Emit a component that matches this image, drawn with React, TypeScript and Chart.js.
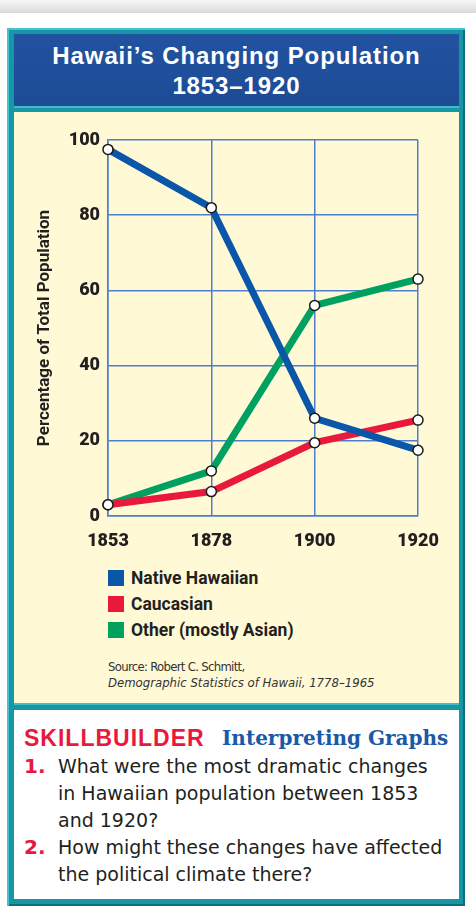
import React, { useEffect, useRef } from "react";
import { Chart, registerables } from "chart.js";

Chart.register(...registerables);

// ---- data ----
const years = ["1853", "1878", "1900", "1920"];
const nativeHawaiian = [97.5, 82, 26, 17.5];
const caucasian = [3, 6.5, 19.5, 25.5];
const other = [3, 12, 56, 63];
const yTicks = [0, 20, 40, 60, 80, 100];
const seriesNames = ["Native Hawaiian", "Caucasian", "Other (mostly Asian)"];
const seriesColors = ["#0a56a8", "#e8193c", "#00a160"];

const GRID = "#4f7fcc";
const INK = "#231f20";
const TEAL = "#1797a5";
const BOLD_FAMILY = "Roboto, 'Liberation Sans', sans-serif";

function LineChart() {
  const ref = useRef<HTMLCanvasElement | null>(null);
  useEffect(() => {
    if (!ref.current) return;
    const seriesValues = [nativeHawaiian, caucasian, other];
    const chart = new Chart(ref.current, {
      type: "line",
      data: {
        labels: years,
        datasets: seriesValues.map((vals, i) => ({
          label: seriesNames[i],
          data: vals,
          borderColor: seriesColors[i],
          backgroundColor: seriesColors[i],
          borderWidth: 7,
          borderJoinStyle: "round" as const,
          borderCapStyle: "round" as const,
          tension: 0,
          fill: false,
          pointRadius: 5,
          pointHoverRadius: 5,
          pointBackgroundColor: "#ffffff",
          pointBorderColor: "#1a1a1a",
          pointBorderWidth: 1.5,
          clip: 10,
        })),
      },
      options: {
        animation: false,
        responsive: false,
        maintainAspectRatio: false,
        events: [],
        layout: { padding: { top: 28, right: 41, bottom: 0, left: 0 } },
        plugins: { legend: { display: false }, tooltip: { enabled: false } },
        scales: {
          x: {
            type: "category",
            offset: false,
            grid: { color: GRID, lineWidth: 1.5, drawTicks: false },
            border: { color: GRID, width: 1.5 },
            ticks: {
              color: INK,
              padding: 15,
              maxRotation: 0,
              autoSkip: false,
              font: { family: BOLD_FAMILY, size: 18, weight: 900 },
            },
            afterFit: (s: any) => {
              s.height = 46;
            },
          },
          y: {
            min: 0,
            max: 100,
            afterBuildTicks: (s: any) => {
              s.ticks = yTicks.map((v) => ({ value: v }));
            },
            grid: { color: GRID, lineWidth: 1.5, drawTicks: false },
            border: { color: GRID, width: 1.5 },
            ticks: {
              color: INK,
              padding: 8,
              font: { family: BOLD_FAMILY, size: 18, weight: 900 },
            },
            title: {
              display: true,
              text: "Percentage of Total Population",
              color: INK,
              font: { family: BOLD_FAMILY, size: 17, weight: "bold" },
              padding: { top: 21, bottom: 0 },
            },
            afterFit: (s: any) => {
              s.width = 94;
            },
          },
        },
      },
    });
    return () => chart.destroy();
  }, []);
  return (
    <canvas
      ref={ref}
      width={445}
      height={450}
      style={{ position: "absolute", left: 14, top: 112, width: 445, height: 450 }}
    />
  );
}

const abs = (l: number, t: number, w: number, h: number, extra: React.CSSProperties = {}): React.CSSProperties => ({
  position: "absolute",
  left: l,
  top: t,
  width: w,
  height: h,
  ...extra,
});

export default function App() {
  const qFont: React.CSSProperties = {
    fontFamily: "'DejaVu Sans', sans-serif",
    fontSize: 19,
    color: INK,
    lineHeight: "27px",
    whiteSpace: "nowrap",
  };
  const numFont: React.CSSProperties = {
    fontFamily: "'DejaVu Sans', sans-serif",
    fontWeight: 700,
    fontSize: 20,
    color: "#e8193c",
    lineHeight: "27px",
  };
  return (
    <div style={abs(0, 0, 476, 916, { background: "#ffffff", overflow: "hidden" })}>
      {/* top grey band */}
      <div style={abs(0, 0, 476, 13, { background: "linear-gradient(#f7f7f7, #d9d9d9)" })} />
      {/* frame */}
      <div
        style={abs(7, 28, 458, 878, {
          background: TEAL,
          boxShadow: "inset 2px 2px 0 #45c2cd, inset -2px -2px 0 #0b6f7b",
        })}
      />
      {/* header */}
      <div
        style={abs(14, 34, 445, 72, {
          background: "linear-gradient(#2253a0, #1d4b96)",
          color: "#ffffff",
          textAlign: "center",
          fontFamily: "'Liberation Sans', Arial, sans-serif",
          fontWeight: 700,
          fontSize: 24,
          letterSpacing: 0.9,
          lineHeight: "30px",
          paddingTop: 7,
          boxSizing: "border-box",
        })}
      >
        <div>Hawaii’s Changing Population</div>
        <div>1853–1920</div>
      </div>
      {/* divider highlight */}
      <div style={abs(14, 106, 445, 2, { background: "#3fbcc8" })} />
      {/* cream panel */}
      <div style={abs(14, 112, 445, 591, { background: "#fff9d6" })} />
      <LineChart />
      {/* legend */}
      {seriesNames.map((name, i) => (
        <div key={name}>
          <div style={abs(108, 570 + i * 26, 16, 16, { background: seriesColors[i] })} />
          <div
            style={abs(131, 566 + i * 26, 300, 24, {
              fontFamily: BOLD_FAMILY,
              fontWeight: 700,
              fontSize: 17.5,
              lineHeight: "24px",
              color: INK,
              whiteSpace: "nowrap",
            })}
          >
            {name}
          </div>
        </div>
      ))}
      {/* source */}
      <div
        style={abs(108, 659, 340, 34, {
          fontFamily: "'Liberation Sans Narrow', 'DejaVu Sans Condensed', sans-serif",
          fontSize: 13,
          lineHeight: "16px",
          color: "#333333",
          whiteSpace: "nowrap",
        })}
      >
        <div style={{ letterSpacing: -0.7 }}>Source: Robert C. Schmitt,</div>
        <div style={{ fontStyle: "italic" }}>Demographic Statistics of Hawaii, 1778–1965</div>
      </div>
      {/* divider */}
      <div style={abs(14, 703, 445, 2, { background: "#3fbcc8" })} />
      {/* white skill panel */}
      <div style={abs(14, 710, 445, 189, { background: "#ffffff" })} />
      <div
        style={abs(24, 724, 200, 28, {
          fontFamily: "'Liberation Sans', Arial, sans-serif",
          fontWeight: 700,
          fontSize: 23,
          letterSpacing: 1,
          color: "#e8193c",
          lineHeight: "28px",
          whiteSpace: "nowrap",
        })}
      >
        SKILLBUILDER
      </div>
      <div
        style={abs(222, 725, 240, 26, {
          fontFamily: "'DejaVu Serif', serif",
          fontWeight: 700,
          fontSize: 20,
          color: "#1a58a8",
          lineHeight: "26px",
          whiteSpace: "nowrap",
        })}
      >
        Interpreting Graphs
      </div>
      <div style={abs(24, 753, 30, 27, numFont)}>1.</div>
      <div style={abs(58, 753, 410, 81, qFont)}>
        <div>What were the most dramatic changes</div>
        <div>in Hawaiian population between 1853</div>
        <div>and 1920?</div>
      </div>
      <div style={abs(24, 834, 30, 27, numFont)}>2.</div>
      <div style={abs(58, 834, 410, 54, qFont)}>
        <div>How might these changes have affected</div>
        <div>the political climate there?</div>
      </div>
    </div>
  );
}
